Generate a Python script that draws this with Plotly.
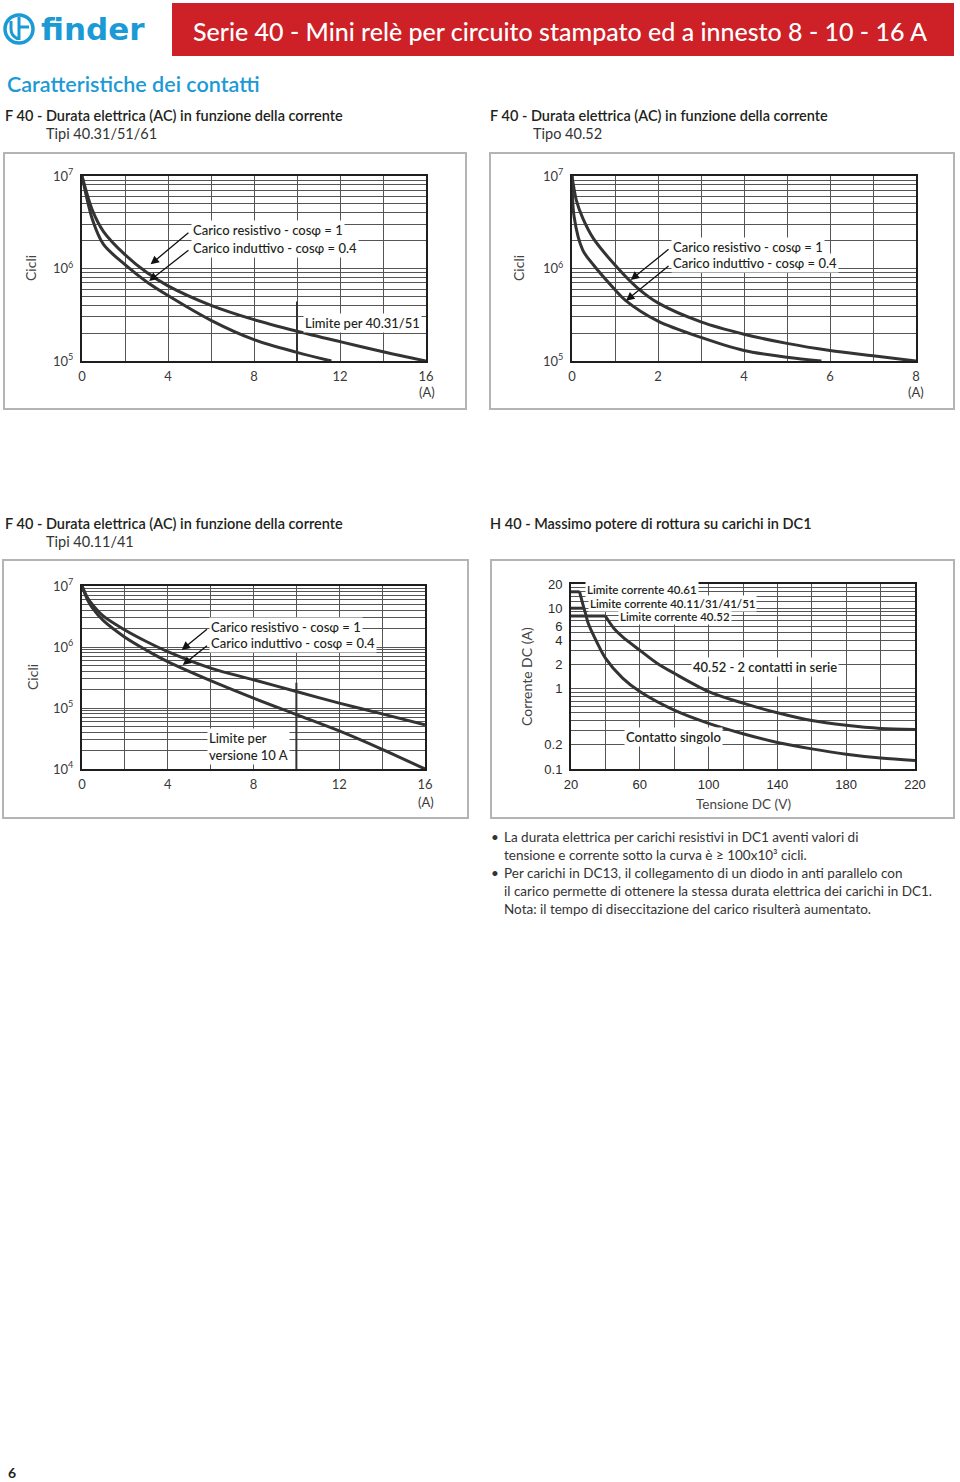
import numpy as np
import plotly.graph_objects as go

W, H = 960, 1482

# ---------------- data ----------------
# F 40 - Tipi 40.31/51/61 : current (A) -> cycles
a_res_x = [0, 0.5, 1, 2, 3, 4, 6, 8, 10, 12, 14, 16]
a_res_y = [1e7, 4.17e6, 2.51e6, 1.41e6, 9.1e5, 6.5e5, 4.0e5, 2.8e5, 2.1e5, 1.62e5, 1.26e5, 1.0e5]
a_ind_x = [0, 0.5, 1, 2, 3, 4, 6, 8, 10, 11.6]
a_ind_y = [1e7, 3.3e6, 1.82e6, 1.1e6, 7.2e5, 5.1e5, 2.75e5, 1.7e5, 1.24e5, 1.0e5]
a_limit_x = [10, 10]
a_limit_y = [1e5, 4.4e5]

# F 40 - Tipo 40.52
b_res_x = [0, 0.1, 0.25, 0.5, 1, 1.5, 2, 3, 4, 5, 6, 7, 8]
b_res_y = [1e7, 5.5e6, 3.5e6, 2.1e6, 1.09e6, 6.3e5, 4.25e5, 2.65e5, 1.95e5, 1.55e5, 1.3e5, 1.14e5, 1.0e5]
b_ind_x = [0, 0.05, 0.25, 0.5, 1, 1.25, 2, 3, 4, 5, 5.8]
b_ind_y = [1e7, 3.6e6, 1.58e6, 1.09e6, 5.9e5, 4.5e5, 2.7e5, 1.8e5, 1.3e5, 1.1e5, 1.0e5]

# F 40 - Tipi 40.11/41
c_res_x = [0, 0.25, 0.5, 1, 2, 3, 4, 6, 8, 10, 12, 14, 16]
c_res_y = [1e7, 6.5e6, 4.9e6, 3.2e6, 1.9e6, 1.23e6, 8.4e5, 4.5e5, 2.9e5, 1.86e5, 1.2e5, 8.0e4, 5.3e4]
c_ind_x = [0, 0.25, 0.5, 1, 2, 3, 4, 6, 8, 10, 12, 14, 16]
c_ind_y = [1e7, 6.0e6, 4.3e6, 2.7e6, 1.45e6, 8.9e5, 5.75e5, 2.8e5, 1.45e5, 7.8e4, 4.2e4, 2.1e4, 1.0e4]
c_limit_x = [10, 10]
c_limit_y = [1e4, 2.6e5]

# H 40 - DC1 breaking capacity : voltage (V) -> current (A)
lim_4061_x = [20, 25]
lim_4061_y = [16, 16]
lim_40xx_x = [20, 27.3]
lim_40xx_y = [10, 10]
lim_4052_x = [20, 40]
lim_4052_y = [8, 8]
single_x = [25, 27, 28.5, 30, 35, 40, 50, 60, 80, 100, 120, 140, 160, 180, 200, 220]
single_y = [16, 11, 8.5, 6.5, 3.8, 2.4, 1.35, 0.92, 0.54, 0.37, 0.275, 0.214, 0.178, 0.153, 0.137, 0.128]
series_x = [40, 45, 50, 60, 70, 80, 100, 120, 140, 160, 180, 200, 220]
series_y = [8, 5.6, 4.4, 3.0, 2.07, 1.55, 0.92, 0.66, 0.5, 0.4, 0.35, 0.32, 0.31]

# tick labels
ac_xticks_16 = ["0", "4", "8", "12", "16"]
ac_xticks_8 = ["0", "2", "4", "6", "8"]
dc_xticks = ["20", "60", "100", "140", "180", "220"]
dc_yticks = ["0.1", "0.2", "1", "2", "4", "6", "10", "20"]

# ---------------- styling ----------------
BLUE = "#1c9ad6"
RED = "#cd2027"
INK = "#231f20"
CURVE = "#333333"
GRID = "#555555"
FUT = "Lato"
HELV = "Liberation Sans"


def px(x):
    return x / W


def py(y):
    return 1 - y / H


fig = go.Figure()
annotations = []
shapes = []


def text(t, x, y, size=14, color=INK, family=FUT, xanchor="left", yanchor="middle",
         weight=None, angle=0, **kw):
    f = dict(size=size, color=color, family=family)
    if weight:
        f["weight"] = weight
    annotations.append(dict(text=t, x=px(x), y=py(y), xref="paper", yref="paper",
                            xanchor=xanchor, yanchor=yanchor, showarrow=False,
                            font=f, textangle=angle, **kw))


def log_grid(lo, hi):
    vals = []
    for k in range(lo, hi):
        for d in range(1, 10):
            vals.append(d * 10.0 ** k)
    vals.append(10.0 ** hi)
    return vals


def setup_axes(i, box, xrange, xvals, xlabels_at, xlabels, yrange, yvals, ylabels, tickfont):
    xk = "xaxis" if i == 1 else f"xaxis{i}"
    yk = "yaxis" if i == 1 else f"yaxis{i}"
    x0, y0, x1, y1 = box
    xt = [xlabels[xlabels_at.index(v)] if v in xlabels_at else "" for v in xvals]
    fig.layout[xk] = dict(domain=[px(x0), px(x1)], range=xrange, anchor=f"y{'' if i == 1 else i}",
                          tickmode="array", tickvals=xvals, ticktext=xt, showgrid=True,
                          gridcolor=GRID, gridwidth=1, showline=True, mirror=True,
                          linecolor="#1e1e1e", linewidth=2, ticks="", zeroline=False,
                          tickfont=tickfont, ticklabelstandoff=2, fixedrange=True,
                          automargin=False)
    fig.layout[yk] = dict(domain=[py(y1), py(y0)], range=yrange, type="log",
                          anchor=f"x{'' if i == 1 else i}",
                          tickmode="array", tickvals=yvals, ticktext=ylabels, showgrid=True,
                          gridcolor=GRID, gridwidth=1, showline=True, mirror=True,
                          linecolor="#1e1e1e", linewidth=2, ticks="", zeroline=False,
                          tickfont=tickfont, ticklabelstandoff=4, fixedrange=True,
                          automargin=False)


def curve(i, xs, ys, shape="spline", width=3):
    fig.add_trace(go.Scatter(x=xs, y=ys, mode="lines",
                             line=dict(color=CURVE, width=width, shape=shape, smoothing=0.9),
                             xaxis=f"x{'' if i == 1 else i}", yaxis=f"y{'' if i == 1 else i}",
                             hoverinfo="skip", showlegend=False))


def data_text(i, t, x, yv, size=13, xanchor="left", weight=500, family=FUT, **kw):
    f = dict(size=size, color=INK, family=family)
    if weight:
        f["weight"] = weight
    sfx = "" if i == 1 else str(i)
    annotations.append(dict(text=t, x=x, y=np.log10(yv), xref=f"x{sfx}", yref=f"y{sfx}",
                            xanchor=xanchor, yanchor="middle", showarrow=False,
                            bgcolor="white", borderpad=1, font=f, **kw))


def arrow(i, x_tail, y_tail, x_head, y_head):
    sfx = "" if i == 1 else str(i)
    annotations.append(dict(text="", x=x_head, y=np.log10(y_head), ax=x_tail, ay=np.log10(y_tail),
                            xref=f"x{sfx}", yref=f"y{sfx}", axref=f"x{sfx}", ayref=f"y{sfx}",
                            showarrow=True, arrowhead=2, arrowsize=1.3, arrowwidth=1.3,
                            arrowcolor="#111"))


def sup_labels(vals):
    out = []
    for v in vals:
        lv = np.log10(v)
        out.append(f"10<sup>{int(round(lv))}</sup>" if abs(lv - round(lv)) < 1e-9 else "")
    return out


tick_fut = dict(family=FUT, size=13, color="#3a3a3a")
tick_helv = dict(family=HELV, size=13, color="#2a2a2a")

# ---------- chart A : 40.31/51/61 ----------
boxA = (82, 176, 426, 361)
yv = log_grid(5, 7)
setup_axes(1, boxA, [0, 16], list(range(0, 17, 2)), [0, 4, 8, 12, 16], ac_xticks_16,
           [5, 7], yv, sup_labels(yv), tick_fut)
curve(1, a_res_x, a_res_y)
curve(1, a_ind_x, a_ind_y)
curve(1, a_limit_x, a_limit_y, shape="linear", width=2)
data_text(1, "Carico resistivo - cos\u03c6 = 1", 5.06, 10 ** 6.416)
data_text(1, "Carico induttivo - cos\u03c6 = 0.4", 5.06, 10 ** 6.225)
arrow(1, 5.02, 10 ** 6.40, 3.19, 10 ** 6.045)
arrow(1, 5.02, 10 ** 6.21, 3.12, 10 ** 5.865)
data_text(1, "Limite per 40.31/51", 10.27, 10 ** 5.414)

# ---------- chart B : 40.52 ----------
boxB = (572, 176, 916, 361)
setup_axes(2, boxB, [0, 8], list(range(0, 9)), [0, 2, 4, 6, 8], ac_xticks_8,
           [5, 7], yv, sup_labels(yv), tick_fut)
curve(2, b_res_x, b_res_y)
curve(2, b_ind_x, b_ind_y)
data_text(2, "Carico resistivo - cos\u03c6 = 1", 2.295, 10 ** 6.236)
data_text(2, "Carico induttivo - cos\u03c6 = 0.4", 2.295, 10 ** 6.056)
arrow(2, 2.28, 10 ** 6.22, 1.365, 10 ** 5.876)
arrow(2, 2.28, 10 ** 6.04, 1.256, 10 ** 5.652)

# ---------- chart C : 40.11/41 ----------
boxC = (82, 586, 425, 769)
yv3 = log_grid(4, 7)
setup_axes(3, boxC, [0, 16], list(range(0, 17, 2)), [0, 4, 8, 12, 16], ac_xticks_16,
           [4, 7], yv3, sup_labels(yv3), tick_fut)
curve(3, c_res_x, c_res_y)
curve(3, c_ind_x, c_ind_y)
curve(3, c_limit_x, c_limit_y, shape="linear", width=2)
data_text(3, "Carico resistivo - cos\u03c6 = 1", 5.94, 10 ** 6.333)
data_text(3, "Carico induttivo - cos\u03c6 = 0.4", 5.94, 10 ** 6.07)
arrow(3, 5.9, 10 ** 6.31, 4.65, 10 ** 5.951)
arrow(3, 5.9, 10 ** 6.04, 4.70, 10 ** 5.705)
data_text(3, "Limite per<br>versione 10 A", 5.85, 10 ** 4.377, align="left")

# ---------- chart D : DC1 ----------
boxD = (571, 584, 915, 769)
yv4 = [0.1, 0.2, 0.3, 0.4, 0.5, 0.6, 0.7, 0.8, 0.9, 1, 2, 3, 4, 5, 6, 7, 8, 9, 10, 12, 14, 16, 18, 20]
dc_lab_vals = [0.1, 0.2, 1, 2, 4, 6, 10, 20]
yt4 = [dc_yticks[dc_lab_vals.index(v)] if v in dc_lab_vals else "" for v in yv4]
setup_axes(4, boxD, [20, 220], list(range(20, 221, 20)), [20, 60, 100, 140, 180, 220], dc_xticks,
           [-1, np.log10(20)], yv4, yt4, tick_helv)
curve(4, lim_4061_x, lim_4061_y, shape="linear")
curve(4, lim_40xx_x, lim_40xx_y, shape="linear")
curve(4, lim_4052_x, lim_4052_y, shape="linear")
curve(4, single_x, single_y)
curve(4, series_x, series_y)
data_text(4, "Limite corrente 40.61", 28.0, 10 ** 1.235, size=11.5, weight=600)
data_text(4, "Limite corrente 40.11/31/41/51", 29.9, 10 ** 1.061, size=11.5, weight=600)
data_text(4, "Limite corrente 40.52", 47.3, 10 ** 0.895, size=11.5, weight=600)
data_text(4, "40.52 - 2 contatti in serie", 132.8, 10 ** 0.265, size=13, xanchor="center", weight=600)
data_text(4, "Contatto singolo", 79.3, 10 ** -0.606, size=13, xanchor="center", weight=600)

# ---------- frames ----------
for (x0, y0, x1, y1) in [(4, 153, 466, 409), (490, 153, 954, 409), (3, 560, 468, 818), (491, 560, 954, 818)]:
    shapes.append(dict(type="rect", xref="paper", yref="paper", x0=px(x0), x1=px(x1), y0=py(y1), y1=py(y0),
                       line=dict(color="#b4b4b4", width=2), fillcolor="rgba(0,0,0,0)", layer="below"))

# axis titles and units
text("Cicli", 30, 268, size=14, color="#444", xanchor="center", angle=-90)
text("Cicli", 518, 268, size=14, color="#444", xanchor="center", angle=-90)
text("Cicli", 32, 677, size=14, color="#444", xanchor="center", angle=-90)
text("Corrente DC (A)", 526, 677, size=14, color="#444", xanchor="center", angle=-90)
text("Tensione DC (V)", 743, 804, size=13.5, color="#444", xanchor="center")
text("(A)", 427, 392, size=13, color="#3a3a3a", xanchor="center")
text("(A)", 916, 392, size=13, color="#3a3a3a", xanchor="center")
text("(A)", 426, 802, size=13, color="#3a3a3a", xanchor="center")

# ---------- header ----------
shapes.append(dict(type="rect", xref="paper", yref="paper", x0=px(172), x1=px(954), y0=py(56), y1=py(3),
                   line=dict(width=0), fillcolor=RED))
text("Serie 40 - Mini relè per circuito stampato ed a innesto 8 - 10 - 16 A", 560, 31, size=25,
     color="white", xanchor="center", weight=500)
# logo
shapes.append(dict(type="circle", xref="paper", yref="paper", x0=px(5), x1=px(33), y0=py(43), y1=py(15),
                   line=dict(color=BLUE, width=3.5)))
shapes.append(dict(type="path", xref="paper", yref="paper",
                   path=f"M {px(19)} {py(17)} L {px(19)} {py(40)} "
                        f"M {px(11)} {py(21)} L {px(11)} {py(29)} Q {px(11)} {py(36)} {px(18)} {py(39)} "
                        f"M {px(19)} {py(27)} L {px(29)} {py(27)}",
                   line=dict(color=BLUE, width=3)))
text("finder", 39, 29, size=31, color=BLUE, family="DejaVu Sans", weight=800)

text("Caratteristiche dei contatti", 5, 84, size=21.5, color=BLUE, weight=600)

text("F 40 - Durata elettrica (AC) in funzione della corrente", 3, 115, size=14.5, weight=600)
text("Tipi 40.31/51/61", 44, 133, size=14.5, color="#333")
text("F 40 - Durata elettrica (AC) in funzione della corrente", 488, 115, size=14.5, weight=600)
text("Tipo 40.52", 531, 133, size=14.5, color="#333")
text("F 40 - Durata elettrica (AC) in funzione della corrente", 3, 523, size=14.5, weight=600)
text("Tipi 40.11/41", 44, 541, size=14.5, color="#333")
text("H 40 - Massimo potere di rottura su carichi in DC1", 488, 523, size=14.5, weight=600)

# notes
notes = [
    ("\u2022", "La durata elettrica per carichi resistivi in DC1 aventi valori di"),
    ("", "tensione e corrente sotto la curva è \u2265 100x10\u00b3 cicli."),
    ("\u2022", "Per carichi in DC13, il collegamento di un diodo in anti parallelo con"),
    ("", "il carico permette di ottenere la stessa durata elettrica dei carichi in DC1."),
    ("", "Nota: il tempo di diseccitazione del carico risulterà aumentato."),
]
for k, (b, t) in enumerate(notes):
    yy = 837 + 18 * k
    if b:
        text(b, 489, yy, size=13.5, color="#333")
    text(t, 502, yy, size=13.5, color="#333")

text("6", 6, 1472, size=14, weight=700)

fig.update_layout(width=W, height=H, margin=dict(l=0, r=0, t=0, b=0, pad=0, autoexpand=False),
                  autosize=False, paper_bgcolor="white", plot_bgcolor="white", showlegend=False,
                  annotations=annotations, shapes=shapes)
fig.write_html("out.html", config={"displayModeBar": False, "staticPlot": True},
               post_script="document.body.style.margin='0';document.body.style.padding='0';"
                           "document.body.style.overflow='hidden';")
